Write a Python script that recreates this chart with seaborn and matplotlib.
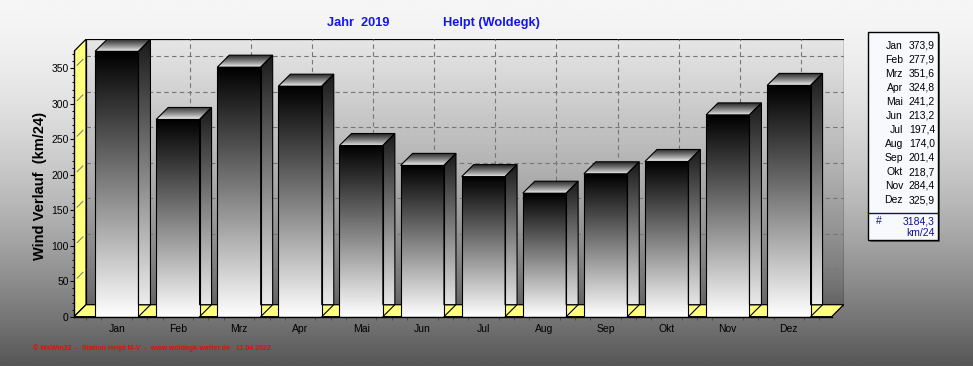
import numpy as np
import matplotlib
matplotlib.use("Agg")
import matplotlib.pyplot as plt
import seaborn as sns
import pandas as pd
from matplotlib.patches import Polygon, Rectangle
from matplotlib.colors import LinearSegmentedColormap
from matplotlib.ticker import FixedLocator

# ---------------- data ----------------
months = ["Jan", "Feb", "Mrz", "Apr", "Mai", "Jun", "Jul", "Aug", "Sep", "Okt", "Nov", "Dez"]
values = [373.9, 277.9, 351.6, 324.8, 241.2, 213.2, 197.4, 174.0, 201.4, 218.7, 284.4, 325.9]
value_labels = ["373,9", "277,9", "351,6", "324,8", "241,2", "213,2", "197,4", "174,0",
                "201,4", "218,7", "284,4", "325,9"]
total_label = "3184,3"
unit_label = "km/24"
y_ticks = [0, 50, 100, 150, 200, 250, 300, 350]
y_label = "Wind Verlauf  (km/24)"
title_year = "Jahr  2019"
title_station = "Helpt (Woldegk)"
footer = "\u00a9 WsWin32  -  Station Helpt M-V  -  www.woldegk-wetter.de   11.04.2022"

# ---------------- style ----------------
sns.set_theme(style="white")
plt.rcParams["font.family"] = ["Liberation Sans", "DejaVu Sans"]

W, H = 973, 366
fig = plt.figure(figsize=(W / 100, H / 100), dpi=100)

# figure background gradient
bg = fig.add_axes([0, 0, 1, 1], zorder=-10)
tb = np.linspace(0, 1, 512) ** 1.6
bg_cmap = LinearSegmentedColormap.from_list("bg", ["#f6f6f6", "#565656"])
bg.imshow(tb.reshape(-1, 1), cmap=bg_cmap, vmin=0, vmax=1, aspect="auto",
          extent=[0, 1, 0, 1], origin="upper")
bg.set_xlim(0, 1); bg.set_ylim(0, 1)
bg.axis("off")

# geometry of the pseudo-3D axes
cat_px = 61.1
unit_px = 0.7097
depth_px = 12
YMAX = 374.0
XL, XR = -0.7, 11.7
DX = depth_px / cat_px
DY = depth_px / unit_px
ax_w = (XR - XL + DX) * cat_px
ax_h = (YMAX + DY) * unit_px
left_px, bottom_px = 74, 316.7
ax = fig.add_axes([left_px / W, (H - bottom_px) / H, ax_w / W, ax_h / H])
ax.set_facecolor("none")

df = pd.DataFrame({"Monat": months, "Wert": values})
sns.barplot(data=df, x="Monat", y="Wert", ax=ax, width=0.71, color="black",
            saturation=1, edgecolor="black", linewidth=0.8)
bars = list(ax.patches)


def grad_fill(patch, extent, c_bottom, c_top, gamma=1.0, z=1):
    t = np.linspace(0, 1, 256) ** gamma
    cm = LinearSegmentedColormap.from_list("g", [c_bottom, c_top])
    im = ax.imshow(t.reshape(-1, 1), cmap=cm, vmin=0, vmax=1, extent=extent,
                   origin="lower", aspect="auto", zorder=z, interpolation="bilinear")
    im.set_clip_path(patch)
    return im


# back wall
back = Rectangle((XL + DX, DY), XR - XL, YMAX, facecolor="none", edgecolor="black",
                 linewidth=0.9, zorder=1.5)
ax.add_patch(back)
grad_fill(back, [XL + DX, XR + DX, DY, YMAX + DY], "#626262", "#e6e6e6", gamma=0.77, z=1)

# back wall grid
for yv in y_ticks[1:]:
    ax.plot([XL + DX, XR + DX], [yv + DY, yv + DY], color="#767676", lw=0.8,
            ls=(0, (4, 3)), zorder=2)
for i in range(len(months)):
    ax.plot([i + DX, i + DX], [DY, YMAX + DY], color="#767676", lw=0.8,
            ls=(0, (4, 3)), zorder=2)

# left wall and floor
lwall = Polygon([(XL, 0), (XL + DX, DY), (XL + DX, YMAX + DY), (XL, YMAX)],
                closed=True, facecolor="#ffff80", edgecolor="black", lw=0.9, zorder=3)
ax.add_patch(lwall)
floor = Polygon([(XL, 0), (XR, 0), (XR + DX, DY), (XL + DX, DY)], closed=True,
                facecolor="#ffff80", edgecolor="black", lw=0.9, zorder=3)
ax.add_patch(floor)
for yv in y_ticks[1:]:
    ax.plot([XL + 0.25 * DX, XL + 0.75 * DX], [yv + 0.25 * DY, yv + 0.75 * DY],
            color="#808080", lw=0.8, zorder=3.5)

# bars in 3D
for p in bars:
    x0 = p.get_x()
    w = p.get_width()
    h = p.get_height()
    x1 = x0 + w
    p.set_facecolor("none")
    p.set_edgecolor("black")
    p.set_linewidth(0.8)
    p.set_zorder(12)
    grad_fill(p, [x0, x1, 0, h], "#ffffff", "#000000", gamma=1.0, z=10)
    side = Polygon([(x1, DY), (x1 + DX, DY), (x1 + DX, h + DY), (x1, h)], closed=True,
                   facecolor="none", edgecolor="black", lw=0.8, zorder=12)
    ax.add_patch(side)
    grad_fill(side, [x1, x1 + DX, 0, h + DY], "#f6f6f6", "#1a1a1a", gamma=1.0, z=10)
    top = Polygon([(x0, h), (x1, h), (x1 + DX, h + DY), (x0 + DX, h + DY)], closed=True,
                  facecolor="none", edgecolor="black", lw=0.8, zorder=12)
    ax.add_patch(top)
    grad_fill(top, [x0, x1 + DX, h, h + DY], "#f8f8f8", "#2a2a2a", gamma=0.8, z=10)
    ax.plot([x1, x1 + DX], [0, DY], color="black", lw=0.8, zorder=12)

# axes, ticks
ax.set_xlim(XL, XR + DX)
ax.set_ylim(0, YMAX + DY)
for s in ["top", "right"]:
    ax.spines[s].set_visible(False)
for s in ["left", "bottom"]:
    ax.spines[s].set_color("black")
    ax.spines[s].set_linewidth(1.0)
    ax.spines[s].set_zorder(13)
ax.spines["left"].set_bounds(0, YMAX)
ax.spines["bottom"].set_bounds(XL, XR)
ax.set_yticks(y_ticks)
ax.yaxis.set_minor_locator(FixedLocator(np.arange(0, YMAX, 10)))
ax.xaxis.set_minor_locator(FixedLocator(np.arange(-0.5, XR, 0.25)))
ax.tick_params(axis="y", which="major", left=True, length=3, width=0.8, color="black",
               labelsize=7.5, pad=0.8, labelcolor="black")
ax.tick_params(axis="y", which="minor", left=True, length=1.8, width=0.7, color="black")
ax.tick_params(axis="x", which="major", bottom=True, length=0, labelsize=7.5, pad=5.5,
               labelcolor="black")
ax.tick_params(axis="x", which="minor", bottom=True, length=1.8, width=0.6, color="#444444")
ax.set_xlabel("")
ax.set_ylabel("")
ax.grid(False)

fig.text(40 / W, 1 - 186 / H, y_label, rotation=90, ha="center", va="center",
         fontsize=10.5, fontweight="bold", color="black")

# title
fig.text(327 / W, 1 - 23 / H, title_year, ha="left", va="center", fontsize=9.2,
         fontweight="bold", color="#1414f0")
fig.text(443 / W, 1 - 23 / H, title_station, ha="left", va="center", fontsize=9.2,
         fontweight="bold", color="#1414f0")

# footer
fig.text(33 / W, 1 - 348 / H, footer, ha="left", va="center", fontsize=5.0,
         fontweight="bold", color="#ff0000")

# legend box
bx0, bx1, by0, by1 = 868, 938, 32, 240
fig.patches.append(Rectangle(((bx0 + 2) / W, 1 - (by1 + 2) / H), (bx1 - bx0) / W,
                             (by1 - by0) / H, transform=fig.transFigure,
                             facecolor="#5a5a5a", edgecolor="none", zorder=1))
fig.patches.append(Rectangle((bx0 / W, 1 - by1 / H), (bx1 - bx0) / W, (by1 - by0) / H,
                             transform=fig.transFigure, facecolor="#f8f9fd",
                             edgecolor="black", lw=1.0, zorder=2))
sep = plt.Line2D([bx0 / W, bx1 / W], [1 - 213 / H, 1 - 213 / H],
                 transform=fig.transFigure, color="#10106a", lw=1.0, zorder=5)
fig.add_artist(sep)
for i, (m, v) in enumerate(zip(months, value_labels)):
    yy = 1 - (46 + 14 * i) / H
    fig.text(903 / W, yy, m, ha="right", va="center", fontsize=7.5, color="black")
    fig.text(935 / W, yy, v, ha="right", va="center", fontsize=7.5, color="black")
fig.text(876 / W, 1 - 221 / H, "#", ha="left", va="center", fontsize=7.5, color="#10109a")
fig.text(935 / W, 1 - 221 / H, total_label, ha="right", va="center", fontsize=7.5,
         color="#10109a")
fig.text(935 / W, 1 - 233 / H, unit_label, ha="right", va="center", fontsize=7.5,
         color="#10109a")

fig.savefig("out.png", dpi=100)
